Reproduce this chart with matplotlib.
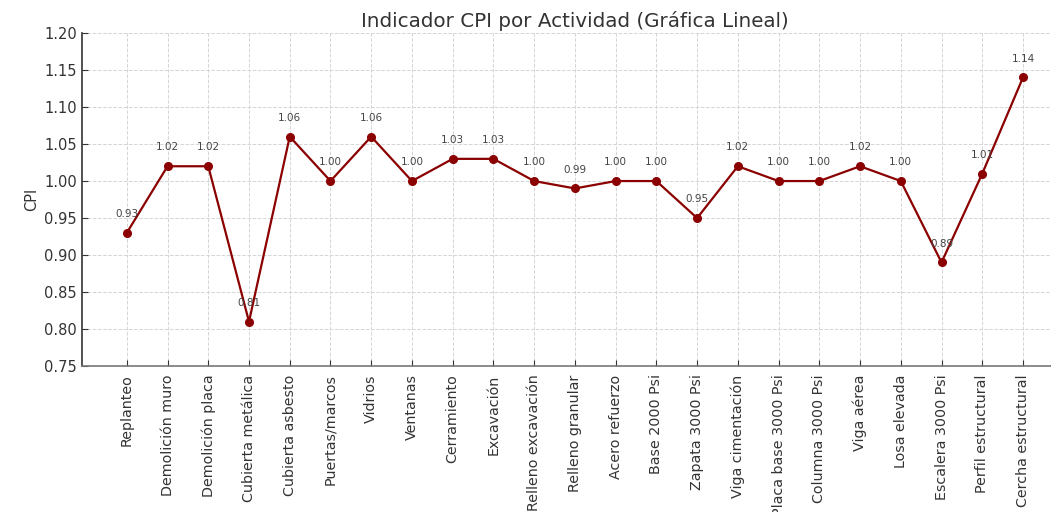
import matplotlib
matplotlib.use("Agg")
import matplotlib.pyplot as plt

# actividades y valores de CPI
actividades = [
    "Replanteo", "Demolición muro", "Demolición placa", "Cubierta metálica",
    "Cubierta asbesto", "Puertas/marcos", "Vidrios", "Ventanas",
    "Cerramiento", "Excavación", "Relleno excavación", "Relleno granular",
    "Acero refuerzo", "Base 2000 Psi", "Zapata 3000 Psi", "Viga cimentación",
    "Placa base 3000 Psi", "Columna 3000 Psi", "Viga aérea", "Losa elevada",
    "Escalera 3000 Psi", "Perfil estructural", "Cercha estructural",
]
cpi = [0.93, 1.02, 1.02, 0.81, 1.06, 1.00, 1.06, 1.00, 1.03, 1.03, 1.00, 0.99,
       1.00, 1.00, 0.95, 1.02, 1.00, 1.00, 1.02, 1.00, 0.89, 1.01, 1.14]
y_ticks = [0.75, 0.80, 0.85, 0.90, 0.95, 1.00, 1.05, 1.10, 1.15, 1.20]

plt.rcParams['font.family'] = ['DejaVu Sans']
texto = '#333333'

fig = plt.figure(figsize=(10.51, 5.12), dpi=100)
ax = fig.add_axes([0.078, 0.285, 0.938, 0.6505])

ax.plot(actividades, cpi, color='darkred', marker='o', linewidth=1.6, markersize=5.5)

# etiquetas de valor sobre cada punto
for i, v in enumerate(cpi):
    ax.annotate(f"{v:.2f}", (i, v), xytext=(0, 10), textcoords='offset points',
                ha='center', va='bottom', fontsize=7.5, color='#444444')

ax.set_ylim(0.75, 1.20)
ax.set_yticks(y_ticks)
ax.set_yticklabels([f"{t:.2f}" for t in y_ticks])
ax.set_title("Indicador CPI por Actividad (Gráfica Lineal)", fontsize=14.3, color=texto, pad=4)
ax.set_ylabel("CPI", fontsize=10.5, color=texto)
ax.tick_params(axis='x', direction='in', rotation=90, labelsize=10.3, colors=texto,
               length=4, pad=6)
ax.tick_params(axis='y', direction='in', labelsize=10.5, colors=texto, length=4)
ax.grid(True, linestyle='--', color='#d5d5d5', linewidth=0.7)
ax.set_axisbelow(True)

for s in ['top', 'right']:
    ax.spines[s].set_visible(False)
ax.spines['left'].set_color('#333333')
ax.spines['left'].set_linewidth(1.2)
ax.spines['bottom'].set_color('#777777')
ax.spines['bottom'].set_linewidth(1.2)

fig.savefig("out.png", dpi=100)
